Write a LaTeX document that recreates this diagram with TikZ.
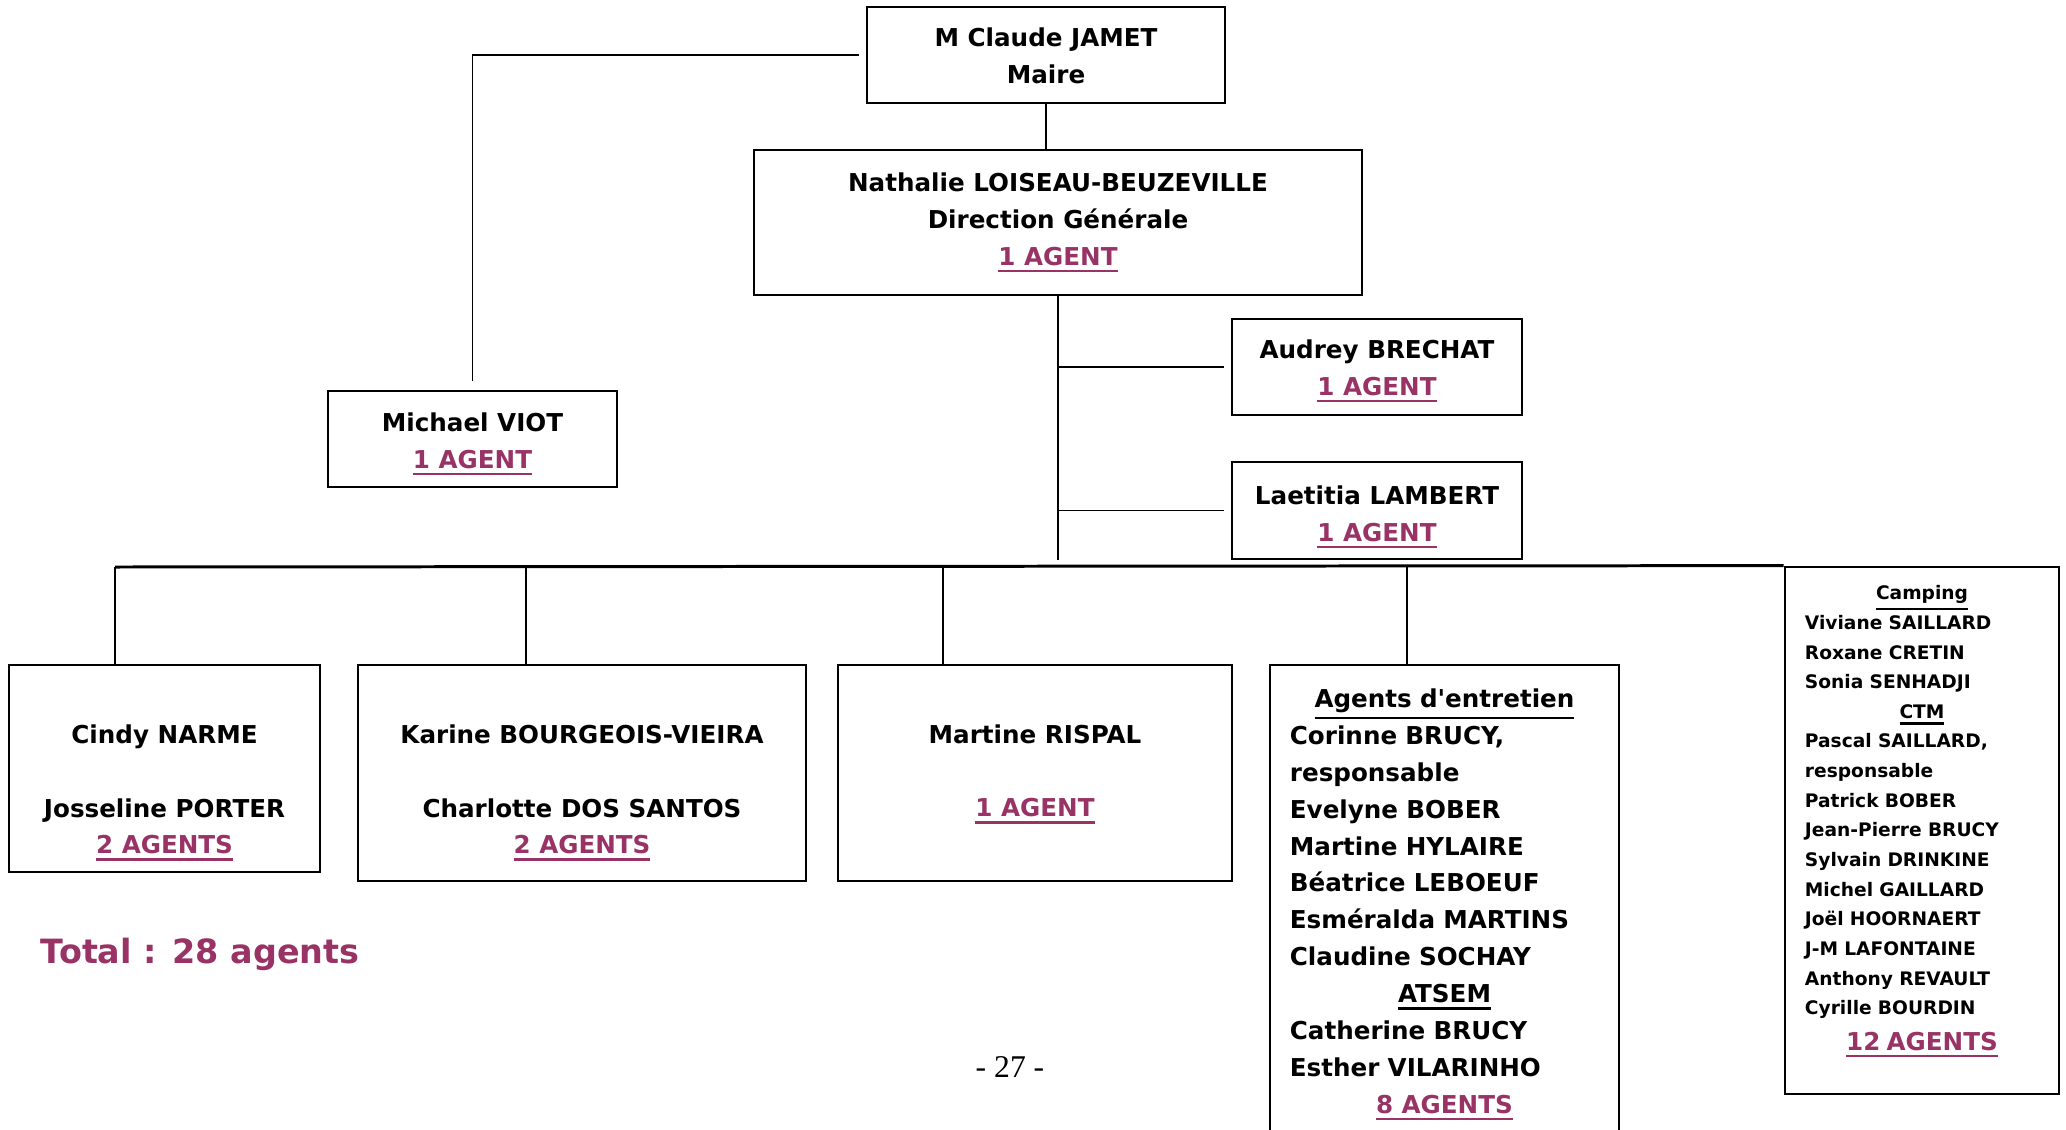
\documentclass[tikz,border=0pt]{standalone}
\usepackage{fontspec}
\usepackage{tikz}
\newfontfamily\orgfont{DejaVu Sans}
\newfontfamily\pagefont{Liberation Serif}
\definecolor{agentpurple}{RGB}{153, 51, 102}

\newcommand{\mainsize}{\orgfont\fontsize{7}{10.5}\selectfont\bfseries}
\newcommand{\smallsize}{\orgfont\fontsize{5.3}{8.43}\selectfont\bfseries}
\newcommand{\souligne}[1]{%
	\setbox0\hbox{#1}%
	\dimen0=\dp0 \advance\dimen0 by 1.1pt%
	\rlap{\vrule width\wd0 height-\dimen0 depth\dimexpr\dimen0+0.75pt\relax}\box0}
\newcommand{\agents}[1]{{\color{agentpurple}\souligne{#1}}}
\newcommand{\ctr}[1]{\leavevmode\hbox to\hsize{\hss#1\hss}}

\begin{document}
\begin{tikzpicture}[x=0.01cm, y=-0.01cm,
	box/.style={draw, line width=0.7pt, align=center, inner sep=0pt, font=\mainsize},
	listbox/.style={draw, line width=0.7pt, align=left, inner xsep=0.2cm, inner ysep=0pt},
	link/.style={line width=0.55pt},
	gap/.style={shorten <=2pt, shorten >=2.5pt}]
	
	% page size
	\useasboundingbox (0,0) rectangle (2066,1130);
	
	% top of the chart
	\node[box, minimum width=3.58cm, minimum height=0.96cm] (maire) at (1046,55) {\rule{0pt}{6pt}M Claude JAMET\\Maire};
	\node[box, minimum width=6.08cm, minimum height=1.45cm] (dg) at (1058,222.5) {Nathalie LOISEAU-BEUZEVILLE\\Direction Générale\\\agents{1 AGENT}};
	\node[box, minimum width=2.89cm, minimum height=0.96cm] (viot) at (472.5,439) {\rule{0pt}{8.3pt}Michael VIOT\\\agents{1 AGENT}};
	\node[box, minimum width=2.90cm, minimum height=0.96cm] (brechat) at (1377,367) {\rule{0pt}{7.6pt}Audrey BRECHAT\\\agents{1 AGENT}};
	\node[box, minimum width=2.90cm, minimum height=0.97cm] (lambert) at (1377,510.5) {\rule{0pt}{9.1pt}Laetitia LAMBERT\\\agents{1 AGENT}};
	
	% services
	\node[box, minimum width=3.11cm, minimum height=2.07cm] (narme) at (164.5,768.5) {\rule{0pt}{0.669cm}Cindy NARME\\[10.5pt]Josseline PORTER\\\agents{2 AGENTS}};
	\node[box, minimum width=4.48cm, minimum height=2.16cm] (bourgeois) at (582,773) {\rule{0pt}{0.579cm}Karine BOURGEOIS-VIEIRA\\[10.5pt]Charlotte DOS SANTOS\\\agents{2 AGENTS}};
	\node[box, minimum width=3.94cm, minimum height=2.16cm] (rispal) at (1035,773) {\rule{0pt}{0.209cm}Martine RISPAL\\[10.5pt]\agents{1 AGENT}};
	\node[listbox, font=\mainsize, text width=3.09cm, minimum height=4.79cm] (entretien) at (1444.5,904.5) {%
		\ctr{\souligne{Agents d'entretien}}\\
		Corinne BRUCY,\\
		responsable\\
		Evelyne BOBER\\
		Martine HYLAIRE\\
		Béatrice LEBOEUF\\
		Esméralda MARTINS\\
		Claudine SOCHAY\\
		\ctr{\souligne{ATSEM}}\\
		Catherine BRUCY\\
		Esther VILARINHO\\
		\ctr{\agents{8 AGENTS}}};
	\node[listbox, font=\smallsize, text width=2.34cm, minimum height=5.27cm] (camping) at (1922,830.5) {%
		\ctr{\souligne{Camping}}\\
		Viviane SAILLARD\\
		Roxane CRETIN\\
		Sonia SENHADJI\\
		\ctr{\souligne{CTM}}\\
		Pascal SAILLARD,\\
		responsable\\
		Patrick BOBER\\
		Jean-Pierre BRUCY\\
		Sylvain DRINKINE\\
		Michel GAILLARD\\
		Joël HOORNAERT\\
		J-M LAFONTAINE\\
		Anthony REVAULT\\
		Cyrille BOURDIN\\[1.7pt]
		\ctr{\mainsize\agents{12 AGENTS}\rule[-0.25cm]{0pt}{0pt}}};
	
	% total and page number
	\node[font=\orgfont\fontsize{9.5}{12}\selectfont\bfseries, text=agentpurple, anchor=base west, inner sep=0pt] (total) at (40,963) {Total : 28 agents};
	\node[font=\pagefont\fontsize{9}{11}\selectfont, anchor=base, inner sep=0pt] (pagenum) at (1010,1077) {- 27 -};
	
	% links from the Maire
	\draw[link] (maire.south) -- (maire.south |- dg.north);
	\draw[link, gap] (maire.west) -| (viot.north);
	
	% spine under the Direction Generale
	\coordinate (spine) at (1058,560);
	\draw[link] (dg.south) -- (spine);
	\foreach \n in {brechat, lambert}{
		\draw[link, shorten >=2pt] (dg.south |- \n.west) -- (\n.west);
	}
	
	% bus and drops to the services
	\coordinate (bus) at (115,567);
	\draw[line width=0.85pt] (bus) -- (camping.north west);
	\foreach \n/\x in {narme/115, bourgeois/526, rispal/943, entretien/1407}{
		\coordinate (drop-\n) at (\x,567);
		\draw[link] (drop-\n) -- (drop-\n |- \n.north);
	}
	
\end{tikzpicture}
\end{document}
